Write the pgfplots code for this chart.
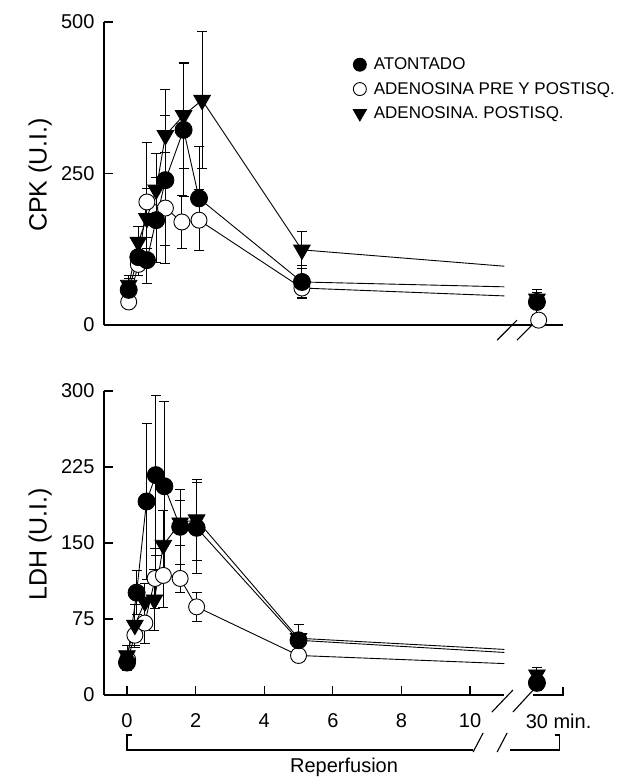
\documentclass[border=0pt]{standalone}
\usepackage{fontspec}
\setmainfont{Liberation Sans}
\usepackage{pgfplots}
\pgfplotsset{compat=1.18}
\pgfplotsset{
  panel/.style={
    scale only axis, width=459pt,
    xmin=-0.67, xmax=12.71,
    axis y line=left, axis x line=bottom,
    axis line style={-, line width=1.3pt},
    tick align=inside,
    major tick length=9pt,
    tick style={line width=1.2pt, black},
    /pgf/number format/assume math mode=true,
    ticklabel style={font=\fontsize{20}{24}\selectfont},
    yticklabel style={xshift=-6pt},
    xticklabel style={yshift=-15pt},
    label style={font=\fontsize{25}{28}\selectfont},
    ylabel style={at={(axis description cs:-0.139,0.495)}, anchor=center},
    clip=false,
    every axis plot/.append style={line width=0.9pt, black},
    error bars/error bar style={line width=0.9pt, black},
    error bars/error mark options={rotate=90, mark size=5pt, line width=0.9pt, black},
  },
  sA/.style={mark=*, mark size=8.5pt, mark options={fill=black}},
  sB/.style={mark=*, mark size=8pt, mark options={fill=white}},
  sC/.style={mark=triangle*, mark size=9.5pt, mark options={rotate=180, fill=black}},
  eb/.style={error bars/.cd, y dir=both, y explicit},
}
\begin{document}
\begin{tikzpicture}
\useasboundingbox (0,0) rectangle (641pt,777pt);
% ---------------- top panel: CPK
\begin{axis}[panel, at={(104pt,452pt)}, anchor=south west, height=303pt,
  ymin=0, ymax=500, ytick={0,250,500}, xtick=\empty,
  ylabel={CPK (U.I.)},
  legend style={at={(axis description cs:0.533,0.895)}, anchor=north west, draw=none, fill=none,
    font=\fontsize{17}{20}\selectfont, row sep=7pt},
  legend cell align=left,
  legend image code/.code={\path[draw=none] (0pt,0pt) -- (20pt,0pt); \draw[#1] plot coordinates {(8pt,0pt)};},
]
\addlegendimage{only marks, mark=*, mark size=6.5pt, mark options={fill=black}}
\addlegendentry{ATONTADO}
\addlegendimage{only marks, mark=*, mark size=6.5pt, mark options={fill=white}}
\addlegendentry{ADENOSINA PRE Y POSTISQ.}
\addlegendimage{only marks, mark=triangle*, mark size=7.5pt, mark options={rotate=180, fill=black}}
\addlegendentry{ADENOSINA. POSTISQ.}
% trend lines
\addplot[forget plot] coordinates {(5.1,61) (11.0,48)};
\addplot[forget plot] coordinates {(5.1,71) (11.0,63)};
\addplot[forget plot] coordinates {(5.1,124) (11.0,97)};
% open circles
\addplot[forget plot, sB, eb] coordinates {
 (0.05,38) +- (0,8) (0.33,100) +- (0,18) (0.58,203) +- (0,99) (1.12,193) +- (0,91)
 (1.60,170) +- (0,43) (2.10,173) +- (0,50) (5.10,61) +- (0,16)};
\addplot[forget plot, only marks, sB, eb] coordinates {(12.0,8) +- (0,8)};
% filled circles
\addplot[forget plot, sA, eb] coordinates {
 (0.05,58) +- (0,18) (0.33,112) +- (0,22) (0.58,107) +- (0,38) (0.85,173) +- (0,70)
 (1.12,239) +- (0,107) (1.65,322) +- (0,110) (2.10,209) +- (0,86) (5.10,71) +- (0,27)};
\addplot[forget plot, only marks, sA, eb] coordinates {(11.95,38) +- (0,20)};
% triangles
\addplot[forget plot, sC, eb] coordinates {
 (0.05,66) +- (0,15) (0.33,137) +- (0,25) (0.58,176) +- (0,50) (0.85,223) +- (0,60)
 (1.12,313) +- (0,76) (1.65,346) +- (0,87) (2.19,371) +- (0,113) (5.10,124) +- (0,30)};
\addplot[forget plot, only marks, sC, eb] coordinates {(11.95,43) +- (0,10)};
% axis break
\draw[line width=1.1pt] (axis cs:10.79,-25) -- (axis cs:11.37,8);
\draw[line width=1.1pt] (axis cs:11.37,-25) -- (axis cs:11.95,8);
\end{axis}
% ---------------- bottom panel: LDH
\begin{axis}[panel, at={(104pt,82pt)}, anchor=south west, height=304pt,
  ymin=0, ymax=300, ytick={0,75,150,225,300},
  xtick={0,2,4,6,8,10},
  extra x ticks={11.95}, extra x tick labels={30\rlap{\ min.}},
  extra x tick style={major tick length=0pt},
  x axis line style={draw=none},
  ylabel={LDH (U.I.)},
  xlabel={Reperfusion},
  xlabel style={at={(axis description cs:0.523,-0.237)}, anchor=center, font=\fontsize{20}{24}\selectfont},
]
% trend lines
\addplot[forget plot] coordinates {(5.0,39) (11.0,31)};
\addplot[forget plot] coordinates {(5.0,54) (11.0,42)};
\addplot[forget plot] coordinates {(5.0,56) (11.0,45)};
% open circles
\addplot[forget plot, sB, eb] coordinates {
 (0.02,35) +- (0,6) (0.23,59) +- (0,12) (0.52,71) +- (0,20) (0.82,115) +- (0,30)
 (1.06,118) +- (0,32) (1.55,115) +- (0,14) (2.03,87) +- (0,14) (5.0,39) +- (0,4)};
\addplot[forget plot, only marks, sB, eb] coordinates {(11.95,12) +- (0,5)};
% filled circles
\addplot[forget plot, sA, eb] coordinates {
 (0.0,32) +- (0,8) (0.28,101) +- (0,22) (0.57,191) +- (0,77) (0.84,217) +- (0,79)
 (1.09,206) +- (0,84) (1.55,166) +- (0,37) (2.03,165) +- (0,45) (5.0,54) +- (0,16)};
\addplot[forget plot, only marks, sA, eb] coordinates {(11.95,12) +- (0,8)};
% triangles
\addplot[forget plot, sC, eb] coordinates {
 (0.0,39) +- (0,10) (0.23,69) +- (0,20) (0.52,92) +- (0,18) (0.80,94) +- (0,30)
 (1.06,148) +- (0,34) (1.55,170) +- (0,22) (2.03,173) +- (0,40) (5.0,56) +- (0,14)};
\addplot[forget plot, only marks, sC, eb] coordinates {(11.95,20) +- (0,7)};
% broken x axis
\draw[line width=1.3pt] (axis cs:-0.67,0) -- (axis cs:10.99,0);
\draw[line width=1.1pt] (axis cs:10.64,-16.8) -- (axis cs:11.25,4.9);
\draw[line width=1.1pt] (axis cs:11.25,-16.8) -- (axis cs:11.84,4.9);
\draw[line width=1.3pt] (axis cs:11.84,0) -- (axis cs:12.71,0) -- (axis cs:12.71,8);
% reperfusion bracket
\draw[line width=1.1pt] (axis cs:0.15,-39.5) -- (axis cs:0,-39.5) -- (axis cs:0,-54.3) -- (axis cs:10.09,-54.3);
\draw[line width=1.1pt] (axis cs:10.09,-56.3) -- (axis cs:10.38,-37.5);
\draw[line width=1.1pt] (axis cs:10.79,-56.3) -- (axis cs:11.08,-37.5);
\draw[line width=1.1pt] (axis cs:11.17,-54.3) -- (axis cs:12.62,-54.3) -- (axis cs:12.62,-39.5) -- (axis cs:12.47,-39.5);
\end{axis}
\end{tikzpicture}
\end{document}
